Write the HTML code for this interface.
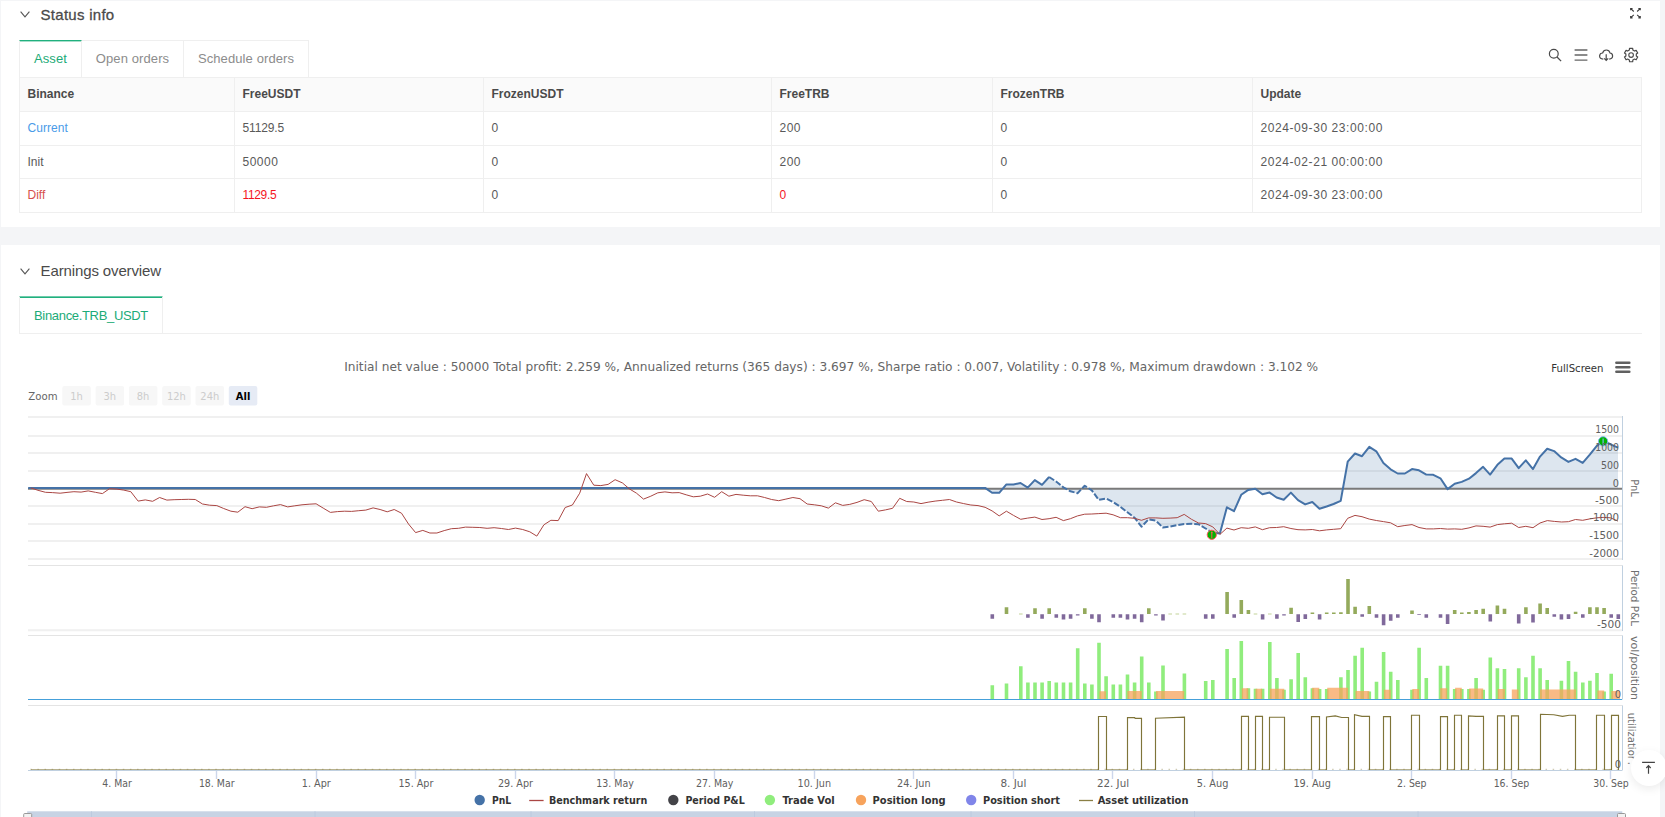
<!DOCTYPE html><html><head><meta charset="utf-8"><title>Status</title><style>
*{box-sizing:border-box}
html,body{margin:0;padding:0}
body{width:1665px;height:817px;overflow:hidden;background:#f4f5f7;font-family:"Liberation Sans", Arial, sans-serif;font-size:13px;color:#595959;position:relative}
.panel{position:absolute;left:1px;width:1659px;background:#fff}
.abs{position:absolute;white-space:nowrap}
.h{font-size:15px;color:#4a4a4a;letter-spacing:.27px;-webkit-text-stroke:.3px #4a4a4a}
.tabs{position:absolute;display:flex;height:37px}
.tab{height:37px;border:1px solid #efefef;border-left:none;border-bottom:none;color:#8c8c8c;font-size:13px;letter-spacing:.1px;line-height:35px;text-align:center}
.tab.first{border-left:1px solid #efefef}
.tab.on{color:#1cab78;border-top:1px solid #21b07e;box-shadow:inset 0 1px 0 rgba(33,176,126,.4);line-height:35px}
.tab.on2{line-height:37px;border-top-color:rgba(33,176,126,.65);box-shadow:inset 0 1px 0 #21b07e}
table{position:absolute;border-collapse:collapse;table-layout:fixed}
td,th{border:1px solid #efefef;padding:0 0 1px 7.5px;text-align:left;font-size:12px;font-weight:normal;color:#595959;white-space:nowrap;overflow:hidden}
th{background:#fafafa;font-weight:bold;color:#4a4a4a;font-size:12px;letter-spacing:0;padding-bottom:2px}
.n{letter-spacing:.5px} .d{letter-spacing:.58px}
.blue{color:#4a9be8} .red{color:#f5151f} .red2{color:#d6504c}
</style></head><body>
<div class="panel" style="top:1px;height:226px"></div>
<div class="panel" style="top:245px;height:580px"></div>
<svg class="abs" style="left:20px;top:10.5px" width="10" height="7" viewBox="0 0 10 7"><path d="M0.6 0.6 L5 5.9 L9.4 0.6" fill="none" stroke="#555" stroke-width="1.1"/></svg>
<div class="abs h" style="left:40.6px;top:5.5px;line-height:17px">Status info</div>
<div class="tabs" style="left:19px;top:40px"><div class="tab first on" style="width:63px">Asset</div><div class="tab" style="width:102px">Open orders</div><div class="tab" style="width:125px">Schedule orders</div></div>
<table style="left:19px;top:77px;width:1623px"><colgroup><col style="width:215px"><col style="width:249px"><col style="width:288px"><col style="width:221px"><col style="width:260px"><col style="width:389px"></colgroup>
<tr style="height:34px"><th>Binance</th><th>FreeUSDT</th><th>FrozenUSDT</th><th>FreeTRB</th><th>FrozenTRB</th><th>Update</th></tr>
<tr style="height:34px"><td class="blue" style="letter-spacing:.05px">Current</td><td style="letter-spacing:-.15px">51129.5</td><td>0</td><td class="n">200</td><td>0</td><td class="d">2024-09-30 23:00:00</td></tr>
<tr style="height:33px"><td>Init</td><td class="n">50000</td><td>0</td><td class="n">200</td><td>0</td><td class="d">2024-02-21 00:00:00</td></tr>
<tr style="height:34px"><td class="red2">Diff</td><td class="red" style="letter-spacing:-.35px">1129.5</td><td>0</td><td class="red">0</td><td>0</td><td class="d">2024-09-30 23:00:00</td></tr>
</table>
<svg class="abs" style="left:1540px;top:0" width="125" height="75" viewBox="1540 0 125 75" fill="none" stroke="#4a4a4a" stroke-linecap="butt">
<path d="M1630.85 8.70L1633.75 11.50M1630.65 10.30V8.50H1632.55M1640.05 8.70L1637.15 11.50M1640.25 10.30V8.50H1638.35M1630.85 17.70L1633.75 14.90M1630.65 16.10V17.90H1632.55M1640.05 17.70L1637.15 14.90M1640.25 16.10V17.90H1638.35" stroke-width="1.1" stroke="#3a3a3a"/>
<circle cx="1553.8" cy="53.7" r="4.4" stroke-width="1.2"/><path d="M1557 57L1561.1 61.1" stroke-width="1.3"/>
<path d="M1574.6 50H1587.4M1574.6 55H1587.4M1574.6 60.1H1587.4" stroke-width="1.3" stroke="#666"/>
<path d="M1603.3 59.2C1600.4 58.9 1599.5 57.2 1599.6 55.9C1599.8 54 1601.3 53 1602.6 53C1603.2 50.9 1604.6 50 1606.3 50C1608.2 50 1609.6 51.1 1610 53C1611.6 53.1 1612.6 54.3 1612.6 56C1612.6 57.8 1611.3 58.9 1609.2 59.2" stroke-width="1.2"/>
<path d="M1606.2 54.3V60M1604.2 58.4L1606.2 60.4L1608.2 58.4" stroke-width="1.2"/>
<path d="M1629.52 48.33 L1632.68 48.33 L1632.84 50.04 L1634.56 51.04 L1636.13 50.33 L1637.71 53.06 L1636.31 54.06 L1636.31 56.04 L1637.71 57.04 L1636.13 59.77 L1634.56 59.06 L1632.84 60.06 L1632.68 61.77 L1629.52 61.77 L1629.36 60.06 L1627.64 59.06 L1626.07 59.77 L1624.49 57.04 L1625.89 56.04 L1625.89 54.06 L1624.49 53.06 L1626.07 50.33 L1627.64 51.04 L1629.36 50.04Z" stroke-width="1.2" stroke-linejoin="round"/><circle cx="1631.1" cy="55.05" r="2.3" stroke-width="1.1"/>
</svg>
<svg class="abs" style="left:20px;top:267.5px" width="10" height="7" viewBox="0 0 10 7"><path d="M0.6 0.6 L5 5.9 L9.4 0.6" fill="none" stroke="#555" stroke-width="1.1"/></svg>
<div class="abs h" style="left:40.6px;top:262px;line-height:17px;letter-spacing:-.13px;-webkit-text-stroke:0">Earnings overview</div>
<div class="abs" style="left:19px;top:333px;width:1623px;height:1px;background:#efefef"></div>
<div class="tabs" style="left:19px;top:296px"><div class="tab first on on2" style="width:144px;letter-spacing:-.33px">Binance.TRB_USDT</div></div>
<svg class="abs" style="left:0;top:340px" width="1665" height="477" viewBox="0 340 1665 477">
<text x="831.2" y="370.8" font-family="DejaVu Sans, Liberation Sans, sans-serif" font-size="12" fill="#666" text-anchor="middle" font-weight="normal" textLength="974" lengthAdjust="spacingAndGlyphs">Initial net value : 50000 Total profit: 2.259 %, Annualized returns (365 days) : 3.697 %, Sharpe ratio : 0.007, Volatility : 0.978 %, Maximum drawdown : 3.102 %</text>
<text x="1551.3" y="371.8" font-family="DejaVu Sans, Liberation Sans, sans-serif" font-size="10.5" fill="#333" text-anchor="start" font-weight="normal" textLength="52.2" lengthAdjust="spacingAndGlyphs">FullScreen</text>
<g stroke="#606060" stroke-width="2.6" stroke-linecap="round"><path d="M1616.4 362.7H1629.3M1616.4 367.3H1629.3M1616.4 371.8H1629.3"/></g>
<text x="28.3" y="400" font-family="DejaVu Sans, Liberation Sans, sans-serif" font-size="11" fill="#666" text-anchor="start" font-weight="normal" textLength="29.2" lengthAdjust="spacingAndGlyphs">Zoom</text>
<rect x="62.3" y="386" width="28.5" height="19.5" rx="2" fill="#f7f7f7"/>
<text x="76.5" y="400" font-family="DejaVu Sans Condensed, DejaVu Sans, Liberation Sans, sans-serif" font-size="11" fill="#cccccc" text-anchor="middle" font-weight="normal">1h</text>
<rect x="95.6" y="386" width="28.5" height="19.5" rx="2" fill="#f7f7f7"/>
<text x="109.8" y="400" font-family="DejaVu Sans Condensed, DejaVu Sans, Liberation Sans, sans-serif" font-size="11" fill="#cccccc" text-anchor="middle" font-weight="normal">3h</text>
<rect x="128.9" y="386" width="28.5" height="19.5" rx="2" fill="#f7f7f7"/>
<text x="143.1" y="400" font-family="DejaVu Sans Condensed, DejaVu Sans, Liberation Sans, sans-serif" font-size="11" fill="#cccccc" text-anchor="middle" font-weight="normal">8h</text>
<rect x="162.2" y="386" width="28.5" height="19.5" rx="2" fill="#f7f7f7"/>
<text x="176.4" y="400" font-family="DejaVu Sans Condensed, DejaVu Sans, Liberation Sans, sans-serif" font-size="11" fill="#cccccc" text-anchor="middle" font-weight="normal">12h</text>
<rect x="195.5" y="386" width="28.5" height="19.5" rx="2" fill="#f7f7f7"/>
<text x="209.8" y="400" font-family="DejaVu Sans Condensed, DejaVu Sans, Liberation Sans, sans-serif" font-size="11" fill="#cccccc" text-anchor="middle" font-weight="normal">24h</text>
<rect x="228.8" y="386" width="28.5" height="19.5" rx="2" fill="#e6ebf5"/>
<text x="243.1" y="400" font-family="DejaVu Sans, Liberation Sans, sans-serif" font-size="11" fill="#000" text-anchor="middle" font-weight="bold" textLength="14.5" lengthAdjust="spacingAndGlyphs">All</text>
<path d="M28.0 417H1622.5M28.0 436H1622.5M28.0 453H1622.5M28.0 471H1622.5M28.0 506H1622.5M28.0 524H1622.5M28.0 541H1622.5M28.0 559H1622.5M28.0 630.2H1622.5" stroke="#f0f0f0" stroke-width="2" fill="none"/>
<path d="M28.0 565.5H1622.5M28.0 635.5H1622.5M28.0 705.5H1622.5" stroke="#e4e4e4" stroke-width="1" fill="none"/>
<path d="M1622.5 416V560M1622.5 565.5V631M1622.5 635.5V699.5M1622.5 705.5V770" stroke="#C0D0E0" stroke-width="1" fill="none"/>
<path d="M28.2 488 L985.1 487.9 L992.1 492.8 L999.2 492.8 L1006.4 484.4 L1013.5 484.4 L1020.5 483 L1027.7 487.6 L1034.8 480.1 L1042 484.8 L1049.1 477 L1056.1 481.5 L1063.4 487.4 L1070.4 491.3 L1077.5 493.2 L1084.7 485.8 L1091.8 490.3 L1098.8 499.9 L1106.1 498.5 L1113.1 502 L1120.4 506.9 L1127.4 512.2 L1134.5 517.7 L1141.5 526.7 L1148.6 519.3 L1155.8 520.6 L1162.9 527.5 L1170.1 526.5 L1177.2 525.2 L1184.2 524 L1191.5 523.8 L1198.5 524.2 L1205.6 528.5 L1212.8 532.8 L1219.9 533.4 L1226.9 507.3 L1234 511.2 L1241.2 494.8 L1248.3 489.9 L1255.3 488.7 L1262.4 494.2 L1269.6 492.6 L1276.6 497.5 L1283.7 499.7 L1290.9 492.6 L1298 500.1 L1305.2 504.4 L1312.3 502 L1319.5 508.7 L1326.6 506.5 L1333.6 504 L1340.7 500.9 L1347.7 461.7 L1355 453.5 L1362 456.2 L1369.3 446.8 L1376.3 451.3 L1383.4 462.9 L1390.6 469.3 L1397.7 473.5 L1404.9 473.5 L1412 469.1 L1419 470.3 L1426.3 474.6 L1433.3 474.8 L1440.4 478.3 L1447.6 489.1 L1454.7 483.8 L1461.7 481.9 L1469 478.7 L1476 473.1 L1483.1 466.8 L1490.1 474.6 L1497.4 464.8 L1504.4 458.6 L1511.7 458.6 L1518.7 468.2 L1525.8 460.3 L1533 469.1 L1540 456.6 L1547.2 448.8 L1554.1 451.1 L1561.2 457.4 L1568.4 461.9 L1575.5 458.8 L1582.7 462.9 L1589.8 454.7 L1596.8 445.9 L1603.1 441.3 L1610.5 444.3 L1618 447.6 L1618 488 L28.0 488 Z" fill="#4572A7" fill-opacity="0.18" stroke="none"/>
<path d="M28.0 488.7H1622.0" stroke="#7a7a7a" stroke-width="2" fill="none"/>
<path d="M28.2 488 L985.1 487.9 L992.1 492.8 L999.2 492.8 L1006.4 484.4 L1013.5 484.4 L1020.5 483 L1027.7 487.6 L1034.8 480.1 L1042 484.8 L1049.1 477" stroke="#4572A7" stroke-width="2" fill="none" stroke-linejoin="round"/>
<path d="M1049.1 477 L1056.1 481.5 L1063.4 487.4 L1070.4 491.3 L1077.5 493.2 L1084.7 485.8 L1091.8 490.3 L1098.8 499.9 L1106.1 498.5 L1113.1 502 L1120.4 506.9 L1127.4 512.2 L1134.5 517.7 L1141.5 526.7 L1148.6 519.3 L1155.8 520.6 L1162.9 527.5 L1170.1 526.5 L1177.2 525.2 L1184.2 524 L1191.5 523.8 L1198.5 524.2 L1205.6 528.5 L1212.8 532.8" stroke="#4572A7" stroke-width="2" fill="none" stroke-dasharray="6,2" stroke-linejoin="round"/>
<path d="M1212.8 532.8 L1219.9 533.4 L1226.9 507.3 L1234 511.2 L1241.2 494.8 L1248.3 489.9 L1255.3 488.7 L1262.4 494.2 L1269.6 492.6 L1276.6 497.5 L1283.7 499.7 L1290.9 492.6 L1298 500.1 L1305.2 504.4 L1312.3 502 L1319.5 508.7 L1326.6 506.5 L1333.6 504 L1340.7 500.9 L1347.7 461.7 L1355 453.5 L1362 456.2 L1369.3 446.8 L1376.3 451.3 L1383.4 462.9 L1390.6 469.3 L1397.7 473.5 L1404.9 473.5 L1412 469.1 L1419 470.3 L1426.3 474.6 L1433.3 474.8 L1440.4 478.3 L1447.6 489.1 L1454.7 483.8 L1461.7 481.9 L1469 478.7 L1476 473.1 L1483.1 466.8 L1490.1 474.6 L1497.4 464.8 L1504.4 458.6 L1511.7 458.6 L1518.7 468.2 L1525.8 460.3 L1533 469.1 L1540 456.6 L1547.2 448.8 L1554.1 451.1 L1561.2 457.4 L1568.4 461.9 L1575.5 458.8 L1582.7 462.9 L1589.8 454.7 L1596.8 445.9 L1603.1 441.3 L1610.5 444.3 L1618 447.6" stroke="#4572A7" stroke-width="2" fill="none" stroke-linejoin="round"/>
<path d="M30.8 487.9 L38 490.3 L45.5 492.3 L52.3 492.6 L60.1 493.2 L67 492.4 L73.9 491.7 L81.1 492.1 L88.2 490.9 L95.4 492.3 L102.4 493.6 L109.5 488.7 L116.9 489.1 L123.8 490.1 L130.8 491.7 L138.1 501.1 L145.3 499.9 L152.6 501.3 L159.6 497.5 L166.9 500.1 L174.1 499.7 L181.2 499.5 L188.4 499.3 L195.3 499.5 L202.5 504 L209.6 505.2 L216.8 505.6 L223.7 508.5 L230.9 511.2 L237.8 512.2 L245 506.7 L252.1 508.7 L259.3 506.9 L266.4 507.3 L273.6 505.8 L280.5 504.6 L287.7 506.9 L294.8 505.8 L302 504.8 L309.1 504.2 L316.1 503.8 L323.2 508.1 L330.4 512.4 L337.4 511.6 L344.7 511.2 L351.5 511.4 L358.8 510.7 L365.8 510.1 L373.1 507.9 L380.1 509.5 L387.2 511.8 L394.2 509.5 L401.5 513.2 L408.5 524 L415.6 532.6 L422.8 530.4 L429.9 533 L436.9 533 L444.2 530.6 L451.4 528.7 L458.5 528.3 L465.5 527.1 L472.8 527.3 L479.8 527.5 L487.1 528.3 L494.1 527.7 L501.4 528.5 L508.4 529.5 L515.5 528.1 L522.7 529.5 L529.8 531.8 L536.8 536.1 L543.9 524.8 L550.9 520.3 L558.2 520.6 L565.2 507.5 L572.4 505 L579.7 493.2 L586.5 473.6 L593.8 485.2 L600.8 485.6 L608.1 484.4 L615.1 479.7 L622.4 482.9 L629.4 488.9 L636.5 493.2 L643.5 499.1 L650.8 496.2 L657.8 492.8 L664.9 491.9 L672.1 492.8 L679.2 492.6 L686.2 494.8 L693.3 496.8 L700.3 496.2 L707.6 494 L714.6 497.3 L721.7 491.7 L728.9 496.2 L736 494.4 L743.2 495.2 L750.3 495.8 L757.5 495.8 L764.6 497.5 L771.6 499.5 L778.7 500.7 L785.9 499.1 L792.9 497.5 L800 498.7 L807.2 504 L814.3 504.8 L821.3 505.8 L828.4 508.1 L835.4 502.8 L842.7 505.4 L849.7 504.4 L857 502.4 L864.2 499.7 L871.3 501.5 L878.3 511.2 L885.4 509.9 L892.6 508.3 L899.7 498.3 L906.7 501.5 L913.8 502 L921 503.6 L928.1 502.2 L935.1 501.1 L942.4 500.3 L949.4 499.5 L956.5 502 L963.7 503.6 L970.8 505 L978 505.6 L985.1 507.3 L992.1 510.9 L999.2 515.9 L1006.4 511.2 L1013.5 515.4 L1020.7 519.3 L1027.7 518.1 L1034.8 517.1 L1042 519.5 L1049.1 518.7 L1056.1 517.3 L1063.4 520.6 L1070.4 518.7 L1077.5 515.9 L1084.7 514.2 L1091.8 514 L1098.8 513.6 L1106.1 513.2 L1113.1 514.8 L1120.4 517.7 L1127.4 517.7 L1134.5 518.3 L1141.5 520.3 L1148.6 517.9 L1155.8 517.9 L1162.9 518.3 L1170.1 518.1 L1177.2 517.7 L1184.2 514.4 L1191.5 519.3 L1198.5 523 L1205.6 523.6 L1212.8 526.9 L1219.9 534.4 L1226.9 528.1 L1234 530 L1241.2 527.7 L1248.3 528.3 L1255.3 526.9 L1262.4 529.7 L1269.6 527.7 L1276.6 527.5 L1283.7 526.7 L1290.9 528.5 L1298 529.7 L1305.2 529.9 L1312.3 529.5 L1319.5 530.8 L1326.6 529.9 L1333.6 529.3 L1340.7 528.7 L1347.7 518.3 L1355 515.4 L1362 516.7 L1369.3 519.1 L1376.3 520.5 L1383.4 521.6 L1390.6 522.8 L1397.7 526.7 L1404.9 525.5 L1412 524.6 L1419 527.5 L1426.3 528.9 L1433.3 528.9 L1440.4 528.5 L1447.6 529.1 L1454.7 528.9 L1461.7 529.3 L1469 527.9 L1476 525.9 L1483.1 526.3 L1490.1 527.1 L1497.4 524.6 L1504.4 523.8 L1511.7 523.2 L1518.7 527.5 L1525.8 526.3 L1533 527.7 L1540 523 L1547.3 520.6 L1554.3 521.4 L1561.6 522 L1568.4 521.7 L1575.5 519.5 L1582.7 520.3 L1589.8 518.9 L1596.8 517.8 L1603.1 517.4 L1610.5 517.8 L1618 521.1" stroke="#AA4643" stroke-width="1" fill="none" stroke-linejoin="round"/>
<circle cx="1211.8" cy="534.8" r="4.6" fill="#00b400" stroke="#ff5a5a" stroke-width="1"/><path d="M1211.8 532.6V538.6" stroke="#e8604c" stroke-width="1.1"/><circle cx="1211.8" cy="532.4" r="0.9" fill="#f0604c"/>
<circle cx="1603.1" cy="441.3" r="4.6" fill="#00b400" stroke="#7cb5ec" stroke-width="1"/><path d="M1603.1 438.5V445" stroke="#7cb5ec" stroke-width="1.2"/>
<text transform="translate(1630.5,488) rotate(90)" font-family="DejaVu Sans, Liberation Sans, sans-serif" font-size="11.3" fill="#707070" text-anchor="middle" textLength="17.5" lengthAdjust="spacingAndGlyphs">PnL</text>
<text transform="translate(1630.5,598) rotate(90)" font-family="DejaVu Sans, Liberation Sans, sans-serif" font-size="11.3" fill="#707070" text-anchor="middle" textLength="56" lengthAdjust="spacingAndGlyphs">Period P&amp;L</text>
<text transform="translate(1630.5,668) rotate(90)" font-family="DejaVu Sans, Liberation Sans, sans-serif" font-size="11.3" fill="#707070" text-anchor="middle" textLength="64" lengthAdjust="spacingAndGlyphs">vol/position</text>
<clipPath id="uc"><rect x="1620" y="705" width="30" height="53.6"/></clipPath>
<g clip-path="url(#uc)"><text transform="translate(1627.7,712.7) rotate(90)" font-family="DejaVu Sans, Liberation Sans, sans-serif" font-size="11.3" fill="#707070" text-anchor="start" textLength="49.5" lengthAdjust="spacingAndGlyphs">utilization</text></g>
<text transform="translate(1627.7,761.6) rotate(90)" font-family="DejaVu Sans, Liberation Sans, sans-serif" font-size="12" fill="#8a8a8a">.</text>
<path d="M1004.7 607.3h3.6V614h-3.6zM1033.2 608.3h3.6V614h-3.6zM1047.4 608.3h3.6V614h-3.6zM1083 608.3h3.6V614h-3.6zM1147 608.3h3.6V614h-3.6zM1225.3 591.9h3.6V614h-3.6zM1239.5 600.1h3.6V614h-3.6zM1246.6 609.9h3.6V614h-3.6zM1289.3 607.7h3.6V614h-3.6zM1310.6 612.6h3.6V614h-3.6zM1324.9 612.6h3.6V614h-3.6zM1332 612.6h3.6V614h-3.6zM1339.1 612.2h3.6V614h-3.6zM1346.2 579.1h3.6V614h-3.6zM1353.3 606.8h3.6V614h-3.6zM1367.5 606.1h3.6V614h-3.6zM1410.2 610.6h3.6V614h-3.6zM1452.9 609.9h3.6V614h-3.6zM1460 612.4h3.6V614h-3.6zM1467.1 612h3.6V614h-3.6zM1474.3 609.9h3.6V614h-3.6zM1481.4 608.8h3.6V614h-3.6zM1495.6 605.4h3.6V614h-3.6zM1502.7 608.8h3.6V614h-3.6zM1524.1 607.2h3.6V614h-3.6zM1538.3 603.4h3.6V614h-3.6zM1545.4 607.9h3.6V614h-3.6zM1573.8 611.7h3.6V614h-3.6zM1588.1 607.2h3.6V614h-3.6zM1595.2 607.2h3.6V614h-3.6zM1602.3 607.9h3.6V614h-3.6z" fill="#94AA5C"/>
<path d="M1019 613.6h3.6v1h-3.6zM1168.4 613.6h3.6v1h-3.6zM1175.5 613.6h3.6v1h-3.6zM1182.6 613.6h3.6v1h-3.6zM1253.7 613.6h3.6v1h-3.6zM1268 613.6h3.6v1h-3.6z" fill="#c3d49a"/>
<path d="M990.5 614.3h3.6V618.7h-3.6zM1026.1 614.3h3.6V617.7h-3.6zM1040.3 614.3h3.6V618.7h-3.6zM1054.5 614.3h3.6V617.7h-3.6zM1061.7 614.3h3.6V619.5h-3.6zM1068.8 614.3h3.6V618.7h-3.6zM1075.9 614.3h3.6V615.4h-3.6zM1090.1 614.3h3.6V618.7h-3.6zM1097.2 614.3h3.6V622.2h-3.6zM1111.5 614.3h3.6V617.7h-3.6zM1118.6 614.3h3.6V617.7h-3.6zM1125.7 614.3h3.6V619.5h-3.6zM1132.8 614.3h3.6V618.7h-3.6zM1139.9 614.3h3.6V622.2h-3.6zM1154.1 614.3h3.6V615.4h-3.6zM1161.2 614.3h3.6V620.5h-3.6zM1203.9 614.3h3.6V618.7h-3.6zM1211 614.3h3.6V618.7h-3.6zM1232.4 614.3h3.6V617.7h-3.6zM1260.8 614.3h3.6V619.5h-3.6zM1275.1 614.3h3.6V618.7h-3.6zM1282.2 614.3h3.6V615.4h-3.6zM1296.4 614.3h3.6V621.9h-3.6zM1303.5 614.3h3.6V619h-3.6zM1317.8 614.3h3.6V619.6h-3.6zM1360.4 614.3h3.6V616.7h-3.6zM1374.7 614.3h3.6V617.8h-3.6zM1381.8 614.3h3.6V625.3h-3.6zM1388.9 614.3h3.6V620.8h-3.6zM1396 614.3h3.6V617.8h-3.6zM1417.3 614.3h3.6V615.1h-3.6zM1424.5 614.3h3.6V617.8h-3.6zM1438.7 614.3h3.6V617.8h-3.6zM1445.8 614.3h3.6V624.1h-3.6zM1488.5 614.3h3.6V621.4h-3.6zM1516.9 614.3h3.6V623.5h-3.6zM1531.2 614.3h3.6V622.6h-3.6zM1552.5 614.3h3.6V616.7h-3.6zM1559.6 614.3h3.6V619.6h-3.6zM1566.7 614.3h3.6V619h-3.6zM1581 614.3h3.6V617.8h-3.6zM1609.4 614.3h3.6V617.8h-3.6zM1616.5 614.3h3.6V619h-3.6z" fill="#80699B"/>
<path d="M990.5 699.5h3.6V685.2h-3.6zM1004.7 699.5h3.6V683.6h-3.6zM1019 699.5h3.6V666.2h-3.6zM1026.1 699.5h3.6V682.6h-3.6zM1033.2 699.5h3.6V682.6h-3.6zM1040.3 699.5h3.6V682.6h-3.6zM1047.4 699.5h3.6V680.9h-3.6zM1054.5 699.5h3.6V682.6h-3.6zM1061.7 699.5h3.6V682.6h-3.6zM1068.8 699.5h3.6V682.6h-3.6zM1075.9 699.5h3.6V648.2h-3.6zM1083 699.5h3.6V683.6h-3.6zM1090.1 699.5h3.6V684.4h-3.6zM1097.2 699.5h3.6V642.7h-3.6zM1104.3 699.5h3.6V676.2h-3.6zM1111.5 699.5h3.6V684.4h-3.6zM1118.6 699.5h3.6V684.4h-3.6zM1125.7 699.5h3.6V674.6h-3.6zM1132.8 699.5h3.6V682.6h-3.6zM1139.9 699.5h3.6V656.6h-3.6zM1147 699.5h3.6V682.6h-3.6zM1154.1 699.5h3.6V691.5h-3.6zM1161.2 699.5h3.6V665.4h-3.6zM1182.6 699.5h3.6V673.6h-3.6zM1203.9 699.5h3.6V680.9h-3.6zM1211 699.5h3.6V679.9h-3.6zM1225.3 699.5h3.6V649.1h-3.6zM1232.4 699.5h3.6V677.9h-3.6zM1239.5 699.5h3.6V640.9h-3.6zM1246.6 699.5h3.6V688.3h-3.6zM1253.7 699.5h3.6V688.7h-3.6zM1260.8 699.5h3.6V688.7h-3.6zM1268 699.5h3.6V641.9h-3.6zM1275.1 699.5h3.6V677.9h-3.6zM1282.2 699.5h3.6V689.7h-3.6zM1289.3 699.5h3.6V679.2h-3.6zM1296.4 699.5h3.6V652.9h-3.6zM1303.5 699.5h3.6V677.2h-3.6zM1310.6 699.5h3.6V688.2h-3.6zM1317.8 699.5h3.6V688.9h-3.6zM1324.9 699.5h3.6V688.9h-3.6zM1339.1 699.5h3.6V677.2h-3.6zM1346.2 699.5h3.6V670h-3.6zM1353.3 699.5h3.6V655.8h-3.6zM1360.4 699.5h3.6V647.7h-3.6zM1367.5 699.5h3.6V691.6h-3.6zM1374.7 699.5h3.6V681.7h-3.6zM1381.8 699.5h3.6V652h-3.6zM1388.9 699.5h3.6V671.8h-3.6zM1396 699.5h3.6V679.9h-3.6zM1410.2 699.5h3.6V689.8h-3.6zM1417.3 699.5h3.6V647.7h-3.6zM1424.5 699.5h3.6V678.1h-3.6zM1438.7 699.5h3.6V665.7h-3.6zM1445.8 699.5h3.6V665.7h-3.6zM1452.9 699.5h3.6V688.9h-3.6zM1460 699.5h3.6V688.9h-3.6zM1467.1 699.5h3.6V688.9h-3.6zM1474.3 699.5h3.6V678.1h-3.6zM1481.4 699.5h3.6V689.8h-3.6zM1488.5 699.5h3.6V657.4h-3.6zM1495.6 699.5h3.6V668.2h-3.6zM1502.7 699.5h3.6V669.1h-3.6zM1516.9 699.5h3.6V668.2h-3.6zM1524.1 699.5h3.6V677.2h-3.6zM1531.2 699.5h3.6V655.8h-3.6zM1538.3 699.5h3.6V668.2h-3.6zM1545.4 699.5h3.6V679.9h-3.6zM1559.6 699.5h3.6V680.8h-3.6zM1566.7 699.5h3.6V661h-3.6zM1573.8 699.5h3.6V671.8h-3.6zM1581 699.5h3.6V682.6h-3.6zM1588.1 699.5h3.6V680.8h-3.6zM1595.2 699.5h3.6V672.9h-3.6zM1602.3 699.5h3.6V691.6h-3.6zM1609.4 699.5h3.6V673.8h-3.6z" fill="#90ED7D"/>
<path d="M1099.5 699.5V691.3H1106V699.5zM1127.4 699.5V690.9H1141.7V699.5zM1156 699.5V690.9H1184.2V699.5zM1241.8 699.5V688.3H1248.3V699.5zM1255.5 699.5V688.7H1262.2V699.5zM1269.8 699.5V688.7H1284.3V699.5zM1312.1 699.5V687.8H1319.3V699.5zM1327.2 699.5V687.8H1348.1V699.5zM1355.5 699.5V690.9H1369.3V699.5zM1383.9 699.5V689.8H1390.7V699.5zM1412.3 699.5V688.9H1419.1V699.5zM1440.2 699.5V688.2H1447.2V699.5zM1455.1 699.5V687.8H1461.8V699.5zM1469.1 699.5V688.5H1483.2V699.5zM1497.7 699.5V688.9H1504.9V699.5zM1511.8 699.5V689.4H1518.6V699.5zM1540 699.5V689.6H1576V699.5zM1597.4 699.5V690.5H1604.2V699.5zM1611.4 699.5V690.9H1620V699.5z" fill="#F7A35C" fill-opacity="0.75"/>
<path d="M28.0 699.5H1622.0" stroke="#45a0da" stroke-width="1.2" fill="none"/>
<path d="M31 769.7H1098.5M1106.5 769.7H1127.5M1141.5 769.7H1155.5M1184.5 769.7H1241.5M1248.5 769.7H1255.5M1262.5 769.7H1269.5M1284.5 769.7H1311.5M1319.5 769.7H1326.5M1348.5 769.7H1354.5M1369.5 769.7H1383.5M1390.5 769.7H1411.5M1419.5 769.7H1440.5M1447.5 769.7H1454.5M1461.5 769.7H1468.5M1483.5 769.7H1497.5M1504.5 769.7H1511.5M1518.5 769.7H1540.5M1575.5 769.7H1596.5M1604.5 769.7H1611.5" stroke="#8a7f45" stroke-width="1" stroke-opacity="0.75" fill="none"/>
<path d="M30.3 769.6H1619" stroke="#8a7f45" stroke-width="1.6" stroke-opacity="0.4" stroke-dasharray="1.5 5.6138" fill="none"/>
<path d="M1098.5 770V716.5H1106.5V770M1127.5 770V717.6L1134.7 717.6L1135.1 718.4H1141.5V770M1155.5 770V718.2L1184.5 717.2V770M1241.5 770V716.3H1248.5V770M1255.5 770V716.3H1262.5V770M1269.5 770V717.2H1284.5V770M1311.5 770V716.6H1319.5V770M1326.5 770V717L1335.3 715.9L1341.7 717.5H1348.5V770M1354.5 770V714.8L1362 716.4H1369.5V770M1383.5 770V716.6H1390.5V770M1411.5 770V715.2H1419.5V770M1440.5 770V716.6H1447.5V770M1454.5 770V715.2H1461.5V770M1468.5 770V715.9L1476 716.4H1483.5V770M1497.5 770V715.9H1504.5V770M1511.5 770V715.9H1518.5V770M1540.5 770V714.3L1553.8 714.8L1562.5 716.4L1569.2 715.2H1575.5V770M1596.5 770V715.2H1604.5V770M1611.5 770V715.4H1618.5V770" stroke="#7f7439" stroke-width="1.15" fill="none"/>
<text x="1619" y="432.6" font-family="DejaVu Sans, Liberation Sans, sans-serif" font-size="10" fill="#606060" text-anchor="end" font-weight="normal" textLength="23.8" lengthAdjust="spacingAndGlyphs">1500</text>
<text x="1619" y="450.6" font-family="DejaVu Sans, Liberation Sans, sans-serif" font-size="10" fill="#606060" text-anchor="end" font-weight="normal" textLength="23.8" lengthAdjust="spacingAndGlyphs">1000</text>
<text x="1619" y="468.8" font-family="DejaVu Sans, Liberation Sans, sans-serif" font-size="10" fill="#606060" text-anchor="end" font-weight="normal" textLength="18" lengthAdjust="spacingAndGlyphs">500</text>
<text x="1619" y="486.9" font-family="DejaVu Sans, Liberation Sans, sans-serif" font-size="10" fill="#606060" text-anchor="end" font-weight="normal" textLength="6.2" lengthAdjust="spacingAndGlyphs">0</text>
<text x="1619" y="503.8" font-family="DejaVu Sans, Liberation Sans, sans-serif" font-size="10" fill="#606060" text-anchor="end" font-weight="normal" textLength="24" lengthAdjust="spacingAndGlyphs">-500</text>
<text x="1619" y="521.4" font-family="DejaVu Sans, Liberation Sans, sans-serif" font-size="10" fill="#606060" text-anchor="end" font-weight="normal" textLength="29.8" lengthAdjust="spacingAndGlyphs">-1000</text>
<text x="1619" y="538.5" font-family="DejaVu Sans, Liberation Sans, sans-serif" font-size="10" fill="#606060" text-anchor="end" font-weight="normal" textLength="29.8" lengthAdjust="spacingAndGlyphs">-1500</text>
<text x="1619" y="556.6" font-family="DejaVu Sans, Liberation Sans, sans-serif" font-size="10" fill="#606060" text-anchor="end" font-weight="normal" textLength="29.8" lengthAdjust="spacingAndGlyphs">-2000</text>
<text x="1621" y="627.5" font-family="DejaVu Sans, Liberation Sans, sans-serif" font-size="10" fill="#606060" text-anchor="end" font-weight="normal" textLength="24" lengthAdjust="spacingAndGlyphs">-500</text>
<text x="1621" y="697.5" font-family="DejaVu Sans, Liberation Sans, sans-serif" font-size="10" fill="#606060" text-anchor="end" font-weight="normal">0</text>
<text x="1621" y="767.5" font-family="DejaVu Sans, Liberation Sans, sans-serif" font-size="10" fill="#606060" text-anchor="end" font-weight="normal">0</text>
<path d="M28.0 770.5H1622.5" stroke="#C0D0E0" stroke-width="1" fill="none"/>
<text x="117.1" y="786.7" font-family="DejaVu Sans, Liberation Sans, sans-serif" font-size="10" fill="#606060" text-anchor="middle" font-weight="normal" textLength="29.5" lengthAdjust="spacingAndGlyphs">4. Mar</text>
<text x="216.7" y="786.7" font-family="DejaVu Sans, Liberation Sans, sans-serif" font-size="10" fill="#606060" text-anchor="middle" font-weight="normal" textLength="35.6" lengthAdjust="spacingAndGlyphs">18. Mar</text>
<text x="316.3" y="786.7" font-family="DejaVu Sans, Liberation Sans, sans-serif" font-size="10" fill="#606060" text-anchor="middle" font-weight="normal" textLength="29" lengthAdjust="spacingAndGlyphs">1. Apr</text>
<text x="415.9" y="786.7" font-family="DejaVu Sans, Liberation Sans, sans-serif" font-size="10" fill="#606060" text-anchor="middle" font-weight="normal" textLength="35" lengthAdjust="spacingAndGlyphs">15. Apr</text>
<text x="515.5" y="786.7" font-family="DejaVu Sans, Liberation Sans, sans-serif" font-size="10" fill="#606060" text-anchor="middle" font-weight="normal" textLength="35" lengthAdjust="spacingAndGlyphs">29. Apr</text>
<text x="615.1" y="786.7" font-family="DejaVu Sans, Liberation Sans, sans-serif" font-size="10" fill="#606060" text-anchor="middle" font-weight="normal" textLength="37.5" lengthAdjust="spacingAndGlyphs">13. May</text>
<text x="714.7" y="786.7" font-family="DejaVu Sans, Liberation Sans, sans-serif" font-size="10" fill="#606060" text-anchor="middle" font-weight="normal" textLength="37.5" lengthAdjust="spacingAndGlyphs">27. May</text>
<text x="814.3" y="786.7" font-family="DejaVu Sans, Liberation Sans, sans-serif" font-size="10" fill="#606060" text-anchor="middle" font-weight="normal" textLength="33.5" lengthAdjust="spacingAndGlyphs">10. Jun</text>
<text x="913.8" y="786.7" font-family="DejaVu Sans, Liberation Sans, sans-serif" font-size="10" fill="#606060" text-anchor="middle" font-weight="normal" textLength="33.5" lengthAdjust="spacingAndGlyphs">24. Jun</text>
<text x="1013.4" y="786.7" font-family="DejaVu Sans, Liberation Sans, sans-serif" font-size="10" fill="#606060" text-anchor="middle" font-weight="normal" textLength="26" lengthAdjust="spacingAndGlyphs">8. Jul</text>
<text x="1113" y="786.7" font-family="DejaVu Sans, Liberation Sans, sans-serif" font-size="10" fill="#606060" text-anchor="middle" font-weight="normal" textLength="32" lengthAdjust="spacingAndGlyphs">22. Jul</text>
<text x="1212.6" y="786.7" font-family="DejaVu Sans, Liberation Sans, sans-serif" font-size="10" fill="#606060" text-anchor="middle" font-weight="normal" textLength="31.5" lengthAdjust="spacingAndGlyphs">5. Aug</text>
<text x="1312.2" y="786.7" font-family="DejaVu Sans, Liberation Sans, sans-serif" font-size="10" fill="#606060" text-anchor="middle" font-weight="normal" textLength="37.5" lengthAdjust="spacingAndGlyphs">19. Aug</text>
<text x="1411.8" y="786.7" font-family="DejaVu Sans, Liberation Sans, sans-serif" font-size="10" fill="#606060" text-anchor="middle" font-weight="normal" textLength="29.5" lengthAdjust="spacingAndGlyphs">2. Sep</text>
<text x="1511.4" y="786.7" font-family="DejaVu Sans, Liberation Sans, sans-serif" font-size="10" fill="#606060" text-anchor="middle" font-weight="normal" textLength="35.5" lengthAdjust="spacingAndGlyphs">16. Sep</text>
<text x="1611" y="786.7" font-family="DejaVu Sans, Liberation Sans, sans-serif" font-size="10" fill="#606060" text-anchor="middle" font-weight="normal" textLength="35.5" lengthAdjust="spacingAndGlyphs">30. Sep</text>
<path d="M116.5 771V779M216.5 771V779M316.5 771V779M415.5 771V779M515.5 771V779M614.5 771V779M714.5 771V779M814.5 771V779M913.5 771V779M1013.5 771V779M1112.5 771V779M1212.5 771V779M1312.5 771V779M1411.5 771V779M1511.5 771V779M1610.5 771V779" stroke="#ccd6eb" stroke-width="1.4" fill="none"/>
<circle cx="479.7" cy="800" r="5.2" fill="#4572A7"/>
<text x="492" y="803.8" font-family="DejaVu Sans, Liberation Sans, sans-serif" font-size="10.4" fill="#333" text-anchor="start" font-weight="bold" textLength="19.2" lengthAdjust="spacingAndGlyphs">PnL</text>
<path d="M529.2 800.5h14.4" stroke="#AA4643" stroke-width="1.3"/>
<text x="548.9" y="803.8" font-family="DejaVu Sans, Liberation Sans, sans-serif" font-size="10.4" fill="#333" text-anchor="start" font-weight="bold" textLength="98.5" lengthAdjust="spacingAndGlyphs">Benchmark return</text>
<circle cx="673.3" cy="800" r="5.2" fill="#434348"/>
<text x="685.4" y="803.8" font-family="DejaVu Sans, Liberation Sans, sans-serif" font-size="10.4" fill="#333" text-anchor="start" font-weight="bold" textLength="59.3" lengthAdjust="spacingAndGlyphs">Period P&amp;L</text>
<circle cx="769.9" cy="800" r="5.2" fill="#90ED7D"/>
<text x="782.4" y="803.8" font-family="DejaVu Sans, Liberation Sans, sans-serif" font-size="10.4" fill="#333" text-anchor="start" font-weight="bold" textLength="52.4" lengthAdjust="spacingAndGlyphs">Trade Vol</text>
<circle cx="861" cy="800" r="5.2" fill="#F7A35C"/>
<text x="872.6" y="803.8" font-family="DejaVu Sans, Liberation Sans, sans-serif" font-size="10.4" fill="#333" text-anchor="start" font-weight="bold" textLength="73.1" lengthAdjust="spacingAndGlyphs">Position long</text>
<circle cx="971.2" cy="800" r="5.2" fill="#8085E9"/>
<text x="983" y="803.8" font-family="DejaVu Sans, Liberation Sans, sans-serif" font-size="10.4" fill="#333" text-anchor="start" font-weight="bold" textLength="77" lengthAdjust="spacingAndGlyphs">Position short</text>
<path d="M1079 800.5h14" stroke="#8a7f45" stroke-width="1.3"/>
<text x="1097.7" y="803.8" font-family="DejaVu Sans, Liberation Sans, sans-serif" font-size="10.4" fill="#333" text-anchor="start" font-weight="bold" textLength="90.8" lengthAdjust="spacingAndGlyphs">Asset utilization</text>
<rect x="27.2" y="811.3" width="1595.1" height="10" fill="#c7d3e4"/>
<path d="M91.5 811.3V820M315 811.3V820M531 811.3V820M754.5 811.3V820M971 811.3V820M1194.5 811.3V820M1418 811.3V820" stroke="#bccadf" stroke-width="1"/>
<rect x="23.7" y="813.5" width="8" height="8" fill="#f2f2f2" stroke="#999" stroke-width="1" rx="1"/><rect x="1617.5" y="813.5" width="8" height="8" fill="#f2f2f2" stroke="#999" stroke-width="1" rx="1"/>
</svg>
<div class="abs" style="left:1630.5px;top:749.8px;width:36px;height:36px;border-radius:18px;background:#fff;box-shadow:0 3px 10px rgba(0,0,0,.08)"></div>
<svg class="abs" style="left:1640px;top:760px" width="18" height="16" viewBox="1640 760 18 16"><path d="M1642.1 762.3H1654.9M1648.5 773.8V766M1646.3 768L1648.5 765.6L1650.7 768" stroke="#444" stroke-width="1.2" fill="none"/></svg>
</body></html>
